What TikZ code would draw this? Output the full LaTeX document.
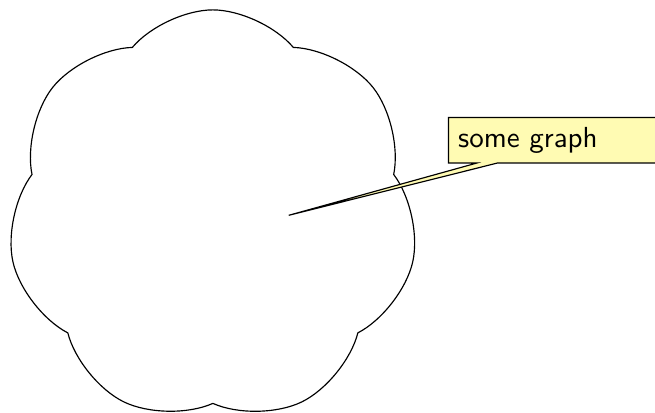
\documentclass[tikz,border=0pt]{standalone}
\usepackage{tikz}
\usetikzlibrary{shapes.symbols, shapes.callouts, positioning}

\begin{document}
\begin{tikzpicture}[
    blob/.style = {
        draw, cloud, cloud puffs=7, cloud puff arc=100,
        minimum width=4.97cm, minimum height=5.0cm, inner sep=0pt
    },
    note/.style = {
        draw, fill=yellow!30, rectangle callout,
        font=\sffamily, text width=2.8cm, align=left, anchor=west
    },
]

\useasboundingbox (0,0) rectangle (7.94,-5.0);

%% ── The graph ────────────────────────────────────────────────────────
\node[blob] (graph) at (2.58,-2.62) {};
\coordinate (tip) at (3.50,-2.61);

%% ── Label ───────────────────────────────────────────────────────────
\node[note, callout absolute pointer={(tip)}] (label) at (5.43,-1.70)
  {some graph};

\end{tikzpicture}
\end{document}
